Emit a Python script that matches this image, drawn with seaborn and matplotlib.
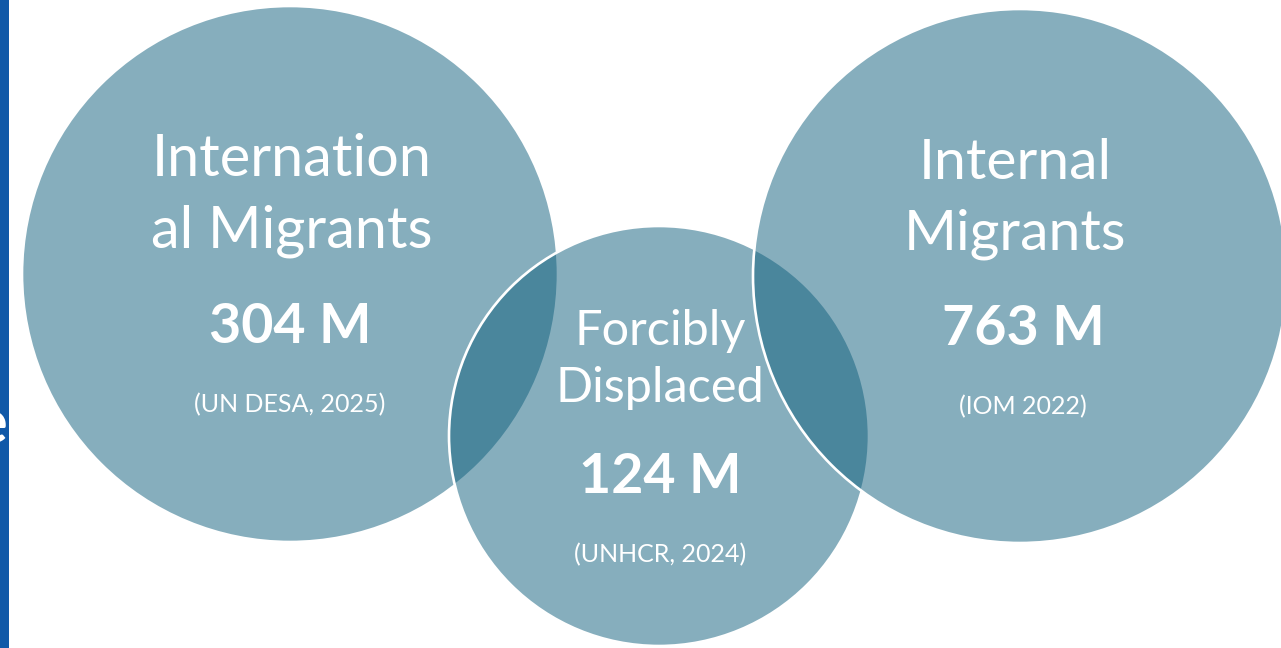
import matplotlib
matplotlib.use("Agg")
import matplotlib.pyplot as plt
from matplotlib.patches import Circle, Rectangle
import seaborn as sns

# --- data -------------------------------------------------------------
groups = ["International Migrants", "Forcibly Displaced", "Internal Migrants"]
title_lines = [["Internation", "al Migrants"], ["Forcibly", "Displaced"], ["Internal", "Migrants"]]
values_m = [304, 124, 763]
sources = ["(UN DESA, 2025)", "(UNHCR, 2024)", "(IOM 2022)"]

# --- layout (pixel space of a 1281 x 648 canvas) ----------------------
W, H = 1281, 648
centers = [(290, 274), (659, 436), (1020, 276)]
radii = [268, 210, 267]
title_base = [(176, 247), (345, 402), (179, 249)]
title_x = [292, 660, 1015]
value_base = [343, 493, 345]
value_x = [290, 660, 1023]
source_base = [412, 562, 414]
source_x = [290, 660, 1023]
title_size = [41.5, 35, 41]

FILL = (15 / 255, 95 / 255, 125 / 255, 0.5)
BAR = "#1059A8"

sns.set_theme(style="white")
plt.rcParams["font.family"] = ["Lato", "DejaVu Sans"]

fig = plt.figure(figsize=(W / 100, H / 100), dpi=100)
ax = fig.add_axes([0, 0, 1, 1])
ax.set_xlim(0, W)
ax.set_ylim(H, 0)
ax.set_aspect("equal")
ax.axis("off")

# circles: semi-transparent fill so overlaps darken, white outline
for i, (c, r) in enumerate(zip(centers, radii)):
    ax.add_patch(Circle(c, r, facecolor=FILL, edgecolor="white",
                        linewidth=1.9, zorder=2 + i))

# side bar
ax.add_patch(Rectangle((0, 0), 9, H, facecolor=BAR, edgecolor="none", zorder=1))
ax.text(7.5, 443, "e", color="white", fontsize=44, fontweight="bold",
        ha="right", va="baseline", zorder=6)

for i in range(len(groups)):
    for line, yb in zip(title_lines[i], title_base[i]):
        ax.text(title_x[i], yb, line, color="white", fontsize=title_size[i],
                ha="center", va="baseline", zorder=10)
    ax.text(value_x[i], value_base[i], f"{values_m[i]} M", color="white",
            fontsize=40, fontweight="bold", ha="center", va="baseline", zorder=10)
    ax.text(source_x[i], source_base[i], sources[i], color="white",
            fontsize=18, fontweight="normal", ha="center", va="baseline", zorder=10)

sns.despine(ax=ax, left=True, bottom=True)
fig.savefig("out.png", dpi=100, facecolor="white")
